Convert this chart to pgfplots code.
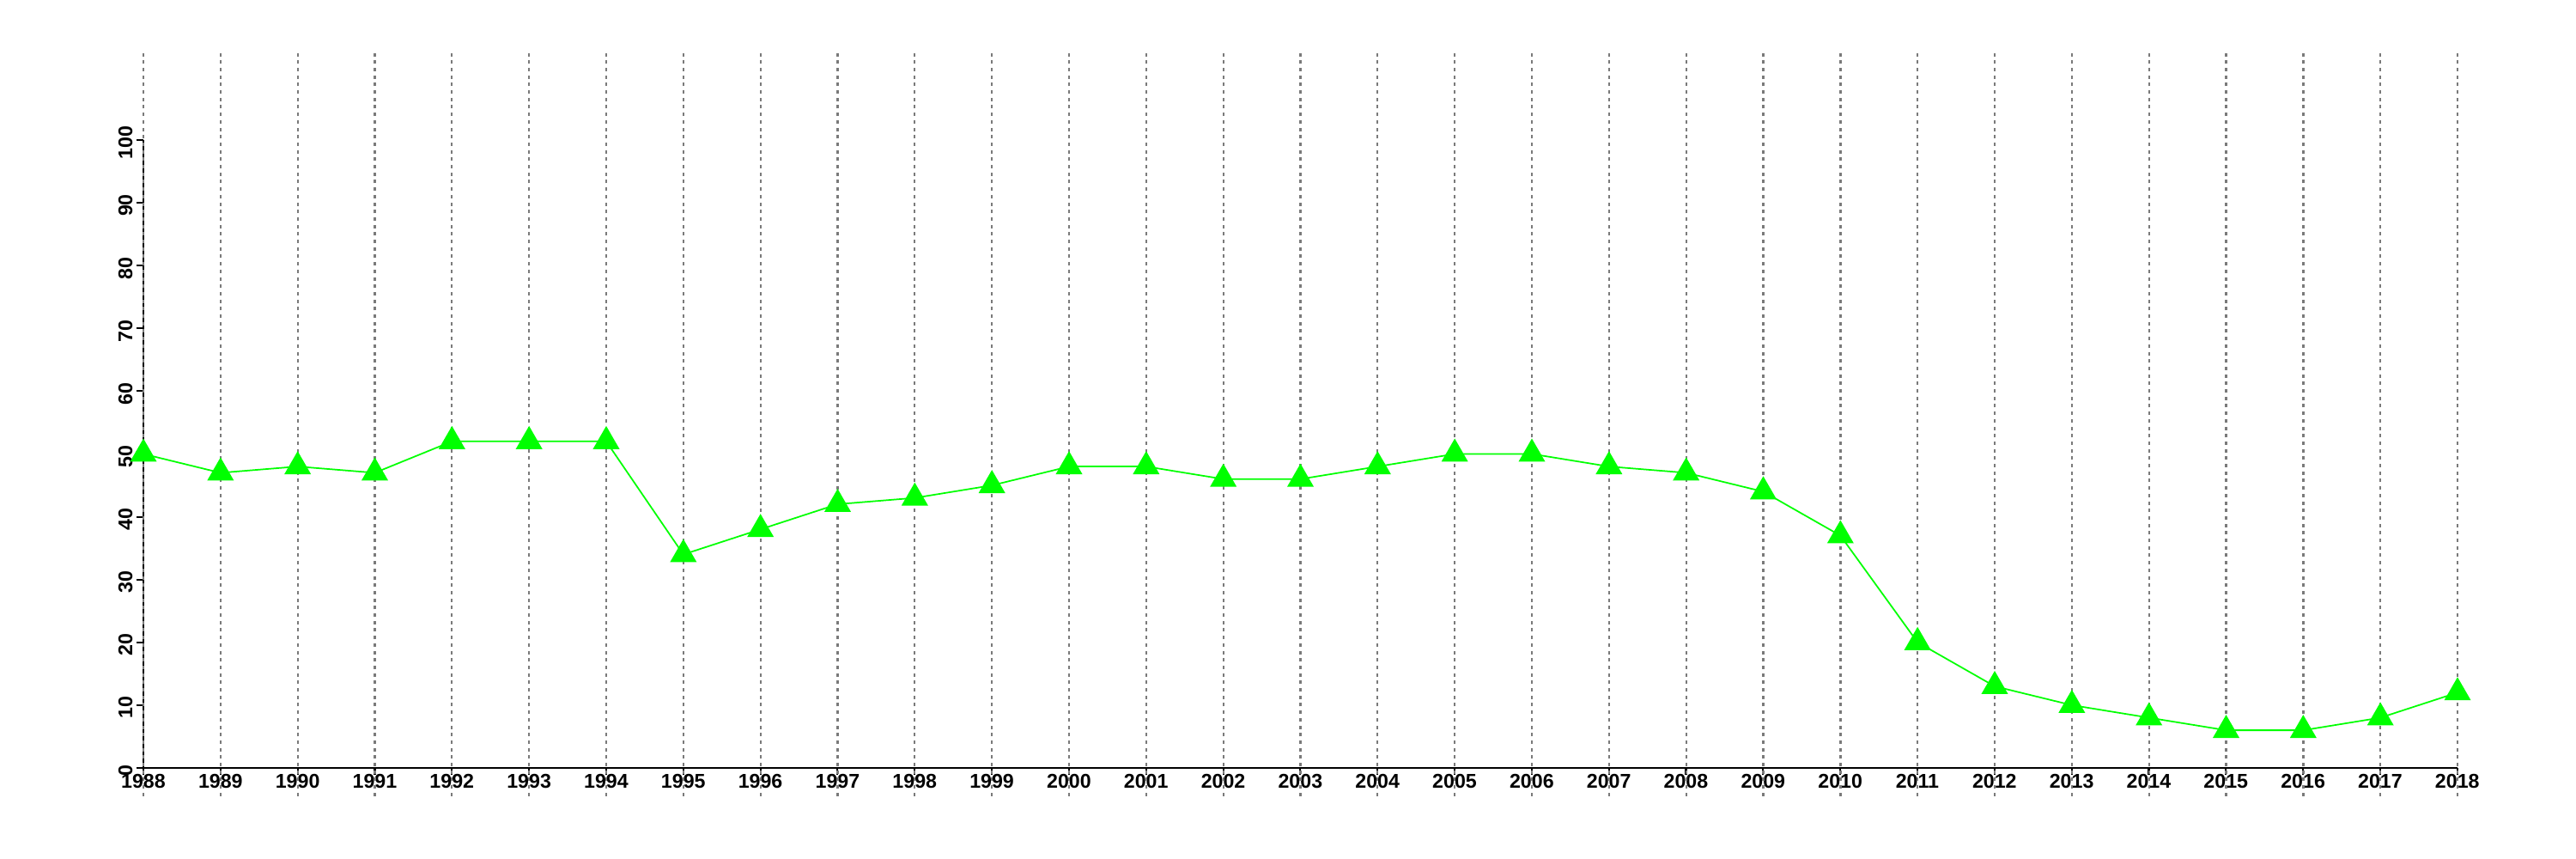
\documentclass[border=0pt]{standalone}
\usepackage{pgfplots}
\pgfplotsset{compat=1.18}
\usepackage{fontspec}
\setmainfont{Liberation Sans}
\definecolor{lgreen}{HTML}{00FF00}
\definecolor{gridgray}{HTML}{7A7A7A}
\pgfplotstableread{
year val
1988 50
1989 47
1990 48
1991 47
1992 52
1993 52
1994 52
1995 34
1996 38
1997 42
1998 43
1999 45
2000 48
2001 48
2002 46
2003 46
2004 48
2005 50
2006 50
2007 48
2008 47
2009 44
2010 37
2011 20
2012 13
2013 10
2014 8
2015 6
2016 6
2017 8
2018 12
}\datatable
\begin{document}
\begin{tikzpicture}
\useasboundingbox (-16.7mm,-10.6mm) rectangle (283.3mm,89.4mm);
\begin{axis}[
  at={(0,0)}, anchor=south west,
  scale only axis,
  width=269.5mm, height=73.1mm,
  xmin=1988, xmax=2018, ymin=0, ymax=100,
  clip=false,
  axis x line=bottom, axis y line=left,
  axis line style={-, line width=0.6pt, black},
  xtick={1988,1989,...,2018},
  ytick={0,10,...,100},
  tick align=outside,
  major tick length=0.85mm,
  tick style={line width=0.6pt, black},
  /pgf/number format/1000 sep={},
  /pgf/number format/assume math mode=true,
  tick label style={font=\fontsize{6.6}{7.5}\selectfont\bfseries},
  xticklabel style={inner sep=1pt, yshift=0.5mm},
  yticklabel style={rotate=90, anchor=south, inner sep=1pt, xshift=-0.3mm},
]
\pgfplotsinvokeforeach{1988,1989,...,2018}{
  \draw[gridgray, line width=0.65pt, dash pattern=on 0.4mm off 0.47mm] (axis cs:#1,-4.5) -- (axis cs:#1,114);
}
\addplot[lgreen, line width=0.5pt, mark=triangle*, mark size=1.62mm, mark options={fill=lgreen, draw=none}] table[x=year, y=val] {\datatable};
\end{axis}
\end{tikzpicture}
\end{document}
